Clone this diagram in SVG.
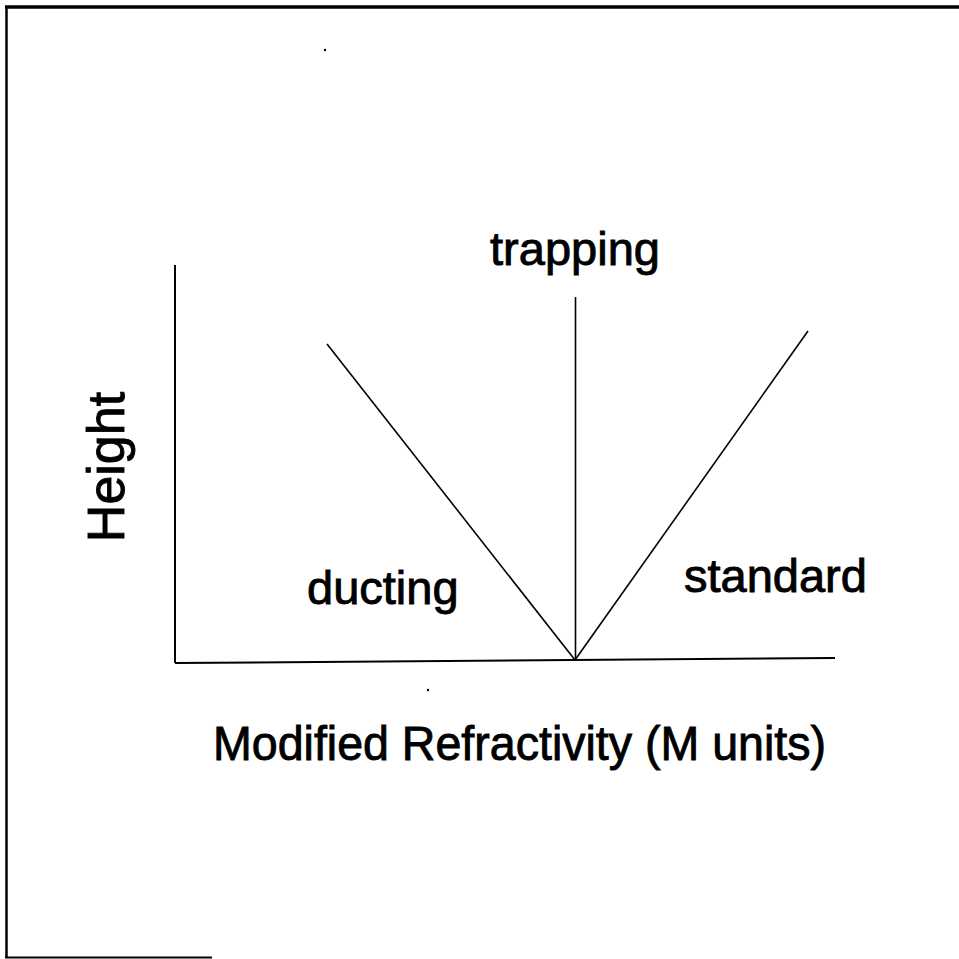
<svg xmlns="http://www.w3.org/2000/svg" width="959" height="959" viewBox="0 0 959 959">
<style>
.lbl{font-family:"Liberation Sans",Arial,sans-serif;font-size:47px;fill:#000;stroke:#000;stroke-width:0.9}
.ln{stroke:#000;stroke-width:1.6;fill:none}
.ax{stroke:#000;stroke-width:2;fill:none}
.bd{stroke:#000;fill:none}
</style>
<rect width="959" height="959" fill="#fff"/>
<g id="frame">
<line class="bd" x1="5" y1="7" x2="959" y2="7" stroke-width="3.5"/>
<line class="bd" x1="6.5" y1="6" x2="6.5" y2="958" stroke-width="2.5"/>
<line class="bd" x1="5" y1="957.5" x2="212" y2="957.5" stroke-width="2" stroke="#555"/>
<circle cx="325" cy="50" r="1.2" fill="#000"/>
<circle cx="428" cy="690" r="1.2" fill="#000"/>
</g>
<g id="axes">
<line class="ax" x1="175" y1="265" x2="175" y2="663"/>
<line class="ax" x1="175" y1="663" x2="835" y2="658"/>
</g>
<g id="connectors">
<line class="ln" x1="327" y1="344" x2="575" y2="660"/>
<line class="ln" x1="575.5" y1="297" x2="575.5" y2="660"/>
<line class="ln" x1="575" y1="660" x2="808" y2="331"/>
</g>
<g id="label-trapping"><text class="lbl" x="575" y="265" text-anchor="middle">trapping</text></g>
<g id="label-ducting"><text class="lbl" x="307" y="604">ducting</text></g>
<g id="label-standard"><text class="lbl" x="684" y="592">standard</text></g>
<g id="label-x"><text class="lbl" x="213" y="760" textLength="613" lengthAdjust="spacingAndGlyphs" style="font-size:49px">Modified Refractivity (M units)</text></g>
<g id="label-y"><text class="lbl" transform="translate(124,467) rotate(-90)" text-anchor="middle" style="font-size:52px">Height</text></g>
</svg>
